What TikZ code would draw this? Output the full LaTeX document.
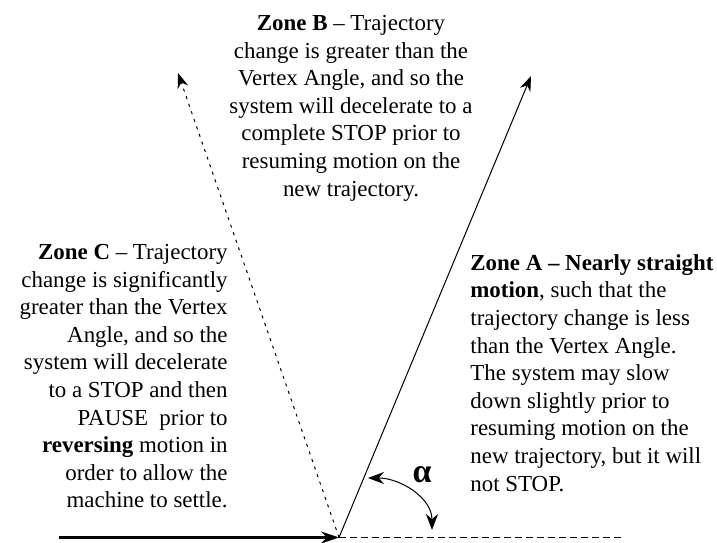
\documentclass[tikz,border=0pt]{standalone}
\usepackage{fontspec}
\setmainfont{Liberation Serif}
\usepackage{tikz}
\usetikzlibrary{arrows.meta, positioning}

\begin{document}
\begin{tikzpicture}[x=0.5bp, y=0.5bp, font=\fontsize{11.5}{13.85}\selectfont]

        % Define styles
        \tikzstyle{zonetext} = [inner sep=0pt]
        \tikzstyle{path} = [draw, line width=0.5bp, -{Stealth[length=7.5bp, width=5.5bp]}]
        \tikzstyle{entry} = [draw, line width=1.3bp, -{Stealth[length=9bp, width=6bp]}]
        \tikzstyle{reference} = [draw, line width=0.5bp, dash pattern=on 3.5bp off 2bp]
        \tikzstyle{angle} = [draw, line width=0.5bp, {Stealth[length=8bp, width=6bp]}-{Stealth[length=8bp, width=6bp]}]

        \useasboundingbox (0,0) rectangle (717,543);

        % Place points
        \coordinate (start) at (59,5.5);
        \coordinate (vertex) at (339,5.5);
        \coordinate (straight) at (625,5.5);
        \coordinate (tipa) at (531,467);
        \coordinate (tipc) at (178,470);
        \coordinate (arcup) at (368,65);
        \coordinate (arcdown) at (432,13);

        % Place nodes
        \node [zonetext, anchor=north, align=center] (zoneb) at (351,528)
            {\textbf{Zone B} -- Trajectory\\ change is greater than the\\ Vertex Angle, and so the\\ system will decelerate to a\\ complete STOP prior to\\ resuming motion on the\\ new trajectory.};
        \node [zonetext, anchor=north east, align=right] (zonec) at (228,299)
            {\textbf{Zone C} -- Trajectory\\ change is significantly\\ greater than the Vertex\\ Angle, and so the\\ system will decelerate\\ to a STOP and then\\ PAUSE~ prior to\\ \textbf{reversing} motion in\\ order to allow the\\ machine to settle.};
        \node [zonetext, anchor=north west, align=left] (zonea) at (470,289)
            {\textbf{Zone A -- Nearly straight}\\ \textbf{motion}, such that the\\ trajectory change is less\\ than the Vertex Angle.\\ The system may slow\\ down slightly prior to\\ resuming motion on the\\ new trajectory, but it will\\ not STOP.};
        \node [zonetext, font=\fontsize{17}{17}\selectfont\bfseries] (alpha) at (422,68) {α};

        % Draw edges
        \path [entry] (start) -- (vertex);
        \path [reference] (vertex) -- (straight);
        \path [path] (vertex) -- (tipa);
        \path [path, dash pattern=on 1.5bp off 2.5bp] (vertex) -- (tipc);
        \path [angle] (arcup) to[out=0, in=90] (arcdown);

\end{tikzpicture}
\end{document}
